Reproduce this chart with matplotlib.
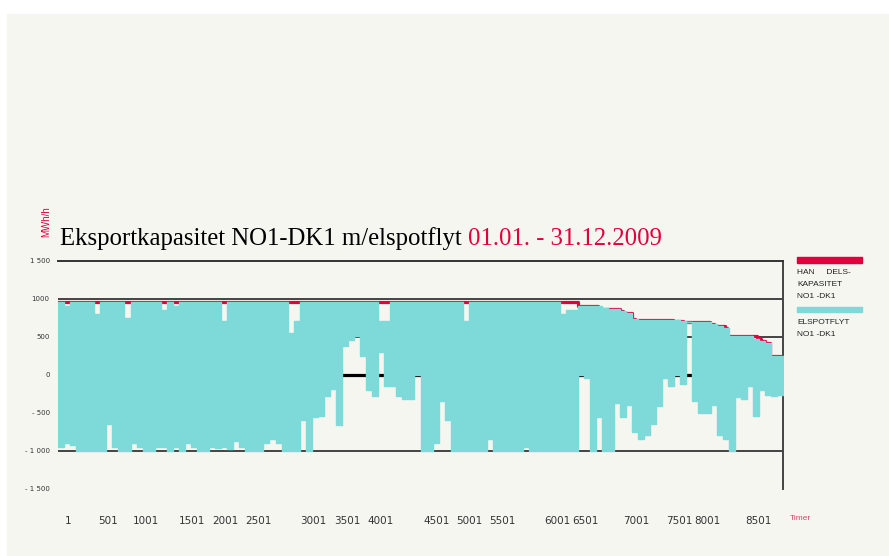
import matplotlib
matplotlib.use('Agg')
import matplotlib.pyplot as plt
import numpy as np
from matplotlib.patches import Rectangle

# timer per blokk (ca. 6 px i originalen)
hours_per_block = 73

# elspotflyt NO1-DK1: høyeste og laveste verdi i hver blokk (MWh/h)
flow_high = [960, 900, 960, 960, 960, 960, 800, 960, 960, 960,
             960, 750, 960, 960, 960, 960, 960, 850, 960, 900,
             960, 960, 960, 960, 960, 960, 960, 700, 960, 960,
             960, 960, 960, 960, 960, 960, 960, 960, 550, 700,
             960, 960, 960, 960, 960, 960, 960, 960, 960, 960,
             960, 960, 960, 700, 700, 960, 960, 960, 960, 960,
             960, 960, 960, 960, 960, 960, 960, 700, 960, 960,
             960, 960, 960, 960, 960, 960, 960, 960, 960, 960,
             960, 960, 960, 800, 850, 850, 900, 905, 905, 905,
             870, 865, 860, 840, 810, 730, 715, 715, 715, 715,
             715, 715, 715, 705, 690, 690, 690, 690, 660, 640,
             610, 505, 505, 505, 505, 470, 440, 410, 240, 240]
flow_low = [-950, -900, -930, -1000, -1000, -1000, -1000, -1000, -650, -950,
            -1000, -1000, -900, -950, -1000, -1000, -950, -950, -1000, -950,
            -1000, -900, -950, -1000, -1000, -950, -970, -950, -980, -880,
            -950, -1000, -1000, -1000, -900, -850, -900, -1000, -1000, -1000,
            -600, -1000, -560, -540, -280, -190, -670, 370, 460, 510,
            250, -200, -280, 300, -145, -150, -280, -320, -320, 0,
            -1000, -1000, -900, -350, -600, -1000, -1000, -1000, -1000, -1000,
            -1000, -850, -1000, -1000, -1000, -1000, -1000, -950, -1000, -1000,
            -1000, -1000, -1000, -1000, -1000, -1000, 0, -50, -1000, -560,
            -1000, -1000, -380, -560, -400, -750, -850, -800, -650, -420,
            -50, -145, 0, -130, 690, -350, -500, -500, -400, -800,
            -850, -1000, -300, -320, -150, -540, -200, -270, -280, -270]

# handelskapasitet: time der nytt nivå starter, og nivå
cap_start = [1, 6283, 6525, 6791, 6827, 6936, 6972, 7431, 7552, 7878,
             7927, 8059, 8083, 8446, 8494, 8543, 8603, 8736]
cap_value = [960, 905, 865, 840, 810, 730, 715, 705, 690, 665,
             640, 610, 505, 470, 440, 410, 240, 0]

tick_labels = ['1', '501', '1001', '1501', '2001', '2501', '3001', '3501', '4001',
               '4501', '5001', '5501', '6001', '6501', '7001', '7501', '8001', '8501']
tick_hours = [121, 604, 1063, 1619, 2018, 2417, 3082, 3493, 3892,
              4574, 4966, 5365, 6030, 6368, 6985, 7504, 7849, 8458]
ytick_values = [1500, 1000, 500, 0, -500, -1000, -1500]
ytick_labels = ['1 500', '1000', '500', '0', '- 500', '- 1 000', '- 1 500']

RED = '#e2003c'
CYAN = '#7ddad8'
BG = '#f6f6f1'

fig = plt.figure(figsize=(8.89, 5.56), dpi=100, facecolor='white')
fig.patches.append(Rectangle((7 / 889, 0), 1, (556 - 14) / 556,
                             transform=fig.transFigure, color=BG, zorder=-10))

ax = fig.add_axes([58 / 889, (556 - 488.5) / 556, 725 / 889, 228 / 556])
ax.set_facecolor('none')

# hjelpelinjer
for v in [1000, 500, -1000]:
    ax.axhline(v, color='#444444', lw=1.4, zorder=1)
ax.axhline(0, color='black', lw=2.3, zorder=1)

# kapasitet (rød trapp)
cx = cap_start + [8760]
cy = cap_value + [cap_value[-1]]
ax.plot(cx, cy, drawstyle='steps-post', color=RED, lw=2.3, zorder=2)

# elspotflyt (turkis), tegnet som spenn mellom min og maks i hver blokk
starts = np.arange(len(flow_high)) * hours_per_block + 1
fx = np.append(starts, 8760)
hi = np.append(flow_high, flow_high[-1])
lo = np.append(flow_low, flow_low[-1])
ax.fill_between(fx, lo, hi, step='post', facecolor=CYAN, edgecolor=CYAN,
                lw=1.0, zorder=3)

ax.set_xlim(1, 8760)
ax.set_ylim(-1500, 1500)
for s in ['left', 'bottom']:
    ax.spines[s].set_visible(False)
ax.spines['top'].set_color('#333333')
ax.spines['top'].set_linewidth(1.4)
ax.spines['right'].set_color('#444444')
ax.spines['right'].set_linewidth(1.4)

ax.set_yticks(ytick_values, ytick_labels)
ax.set_xticks(tick_hours, tick_labels)
ax.tick_params(axis='y', length=0, pad=6, labelsize=5, labelcolor='#333333')
ax.tick_params(axis='x', length=0, pad=20, labelsize=7.5, labelcolor='#333333')

# tittel
fig.text(60 / 889, (556 - 245) / 556, 'Eksportkapasitet NO1-DK1 m/elspotflyt',
         family='Liberation Serif', fontsize=17.8, color='black', va='baseline')
fig.text(468 / 889, (556 - 245) / 556, '01.01. - 31.12.2009',
         family='Liberation Serif', fontsize=17.8, color=RED, va='baseline')
fig.text(46 / 889, (556 - 222) / 556, 'MWh/h', family='Liberation Sans', fontsize=7,
         color=RED, rotation=90, ha='center', va='center')
fig.text(790 / 889, (556 - 518) / 556, 'Timer', family='Liberation Sans', fontsize=6,
         color='#e0406a', va='center')

# tegnforklaring
fig.patches.append(Rectangle((797 / 889, (556 - 263) / 556), 65 / 889, 6 / 556,
                             transform=fig.transFigure, color=RED))
fig.patches.append(Rectangle((797 / 889, (556 - 312) / 556), 65 / 889, 5 / 556,
                             transform=fig.transFigure, color=CYAN))
for txt, yy in [('HAN     DELS-', 272), ('KAPASITET', 284), ('NO1 -DK1', 296),
                ('ELSPOTFLYT', 322), ('NO1 -DK1', 334)]:
    fig.text(797 / 889, (556 - yy) / 556, txt, family='Liberation Sans', fontsize=6,
             color='#222222', va='center')

fig.savefig('out.png', dpi=100, facecolor='white')
